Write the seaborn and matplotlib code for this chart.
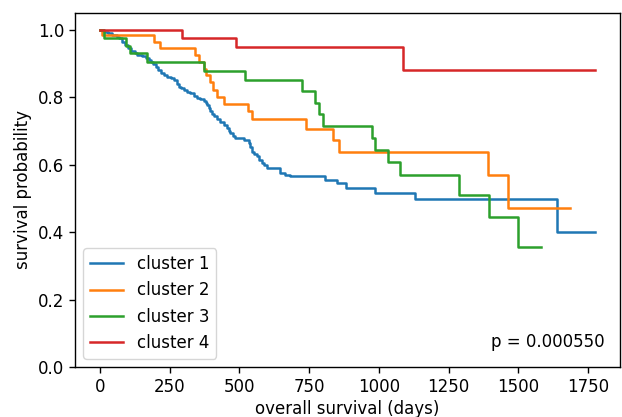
import pandas as pd
import numpy as np
import seaborn as sns
import matplotlib
matplotlib.use("Agg")
import matplotlib.pyplot as plt

plt.rcParams.update({'font.size': 12, 'axes.linewidth': 1.0,
                     'xtick.major.size': 4.2, 'ytick.major.size': 4.2,
                     'xtick.major.width': 1.0, 'ytick.major.width': 1.0})

# step functions (time in days, survival)
c1_time = [0, 15, 30, 45, 60, 70, 80, 90, 100, 111, 125, 135, 150, 164, 175, 182,
           192, 200, 210, 218, 230, 242, 255, 266, 275, 284, 292, 301, 312, 325,
           337, 349, 360, 373, 380, 385, 390, 396, 402, 408, 420, 432, 444, 456,
           462, 468, 477, 486, 516, 533, 539, 545, 554, 563, 572, 581, 590, 599,
           647, 665, 683, 807, 851, 881, 986, 1131, 1637, 1775]
c1_surv = [1.0, 0.995, 0.990, 0.985, 0.980, 0.975, 0.965, 0.955, 0.945, 0.936,
           0.931, 0.926, 0.921, 0.916, 0.911, 0.906, 0.898, 0.891, 0.881, 0.871,
           0.866, 0.861, 0.856, 0.851, 0.840, 0.830, 0.826, 0.822, 0.817, 0.812,
           0.805, 0.797, 0.794, 0.790, 0.782, 0.777, 0.768, 0.758, 0.750, 0.743,
           0.735, 0.728, 0.718, 0.708, 0.700, 0.693, 0.686, 0.679, 0.672, 0.664,
           0.652, 0.639, 0.632, 0.625, 0.615, 0.605, 0.598, 0.590, 0.575, 0.570,
           0.565, 0.555, 0.545, 0.532, 0.517, 0.497, 0.399, 0.399]

c2_time = [0, 7, 195, 215, 343, 357, 372, 382, 395, 405, 420, 445, 530, 545,
           739, 834, 858, 1390, 1462, 1685]
c2_surv = [1.0, 0.984, 0.963, 0.945, 0.925, 0.905, 0.885, 0.866, 0.846, 0.822,
           0.800, 0.779, 0.758, 0.736, 0.706, 0.672, 0.637, 0.568, 0.471, 0.471]

c3_time = [0, 15, 94, 107, 168, 373, 521, 724, 771, 787, 801, 977, 986, 1033,
           1075, 1286, 1394, 1500, 1581]
c3_surv = [1.0, 0.977, 0.953, 0.931, 0.904, 0.879, 0.850, 0.820, 0.783, 0.750,
           0.715, 0.680, 0.644, 0.607, 0.568, 0.510, 0.446, 0.357, 0.357]

c4_time = [0, 293, 488, 1086, 1775]
c4_surv = [1.0, 0.977, 0.950, 0.882, 0.882]

clusters = ['cluster 1', 'cluster 2', 'cluster 3', 'cluster 4']
p_value = 0.000550

frames = []
for name, t, s in zip(clusters, [c1_time, c2_time, c3_time, c4_time],
                      [c1_surv, c2_surv, c3_surv, c4_surv]):
    frames.append(pd.DataFrame({'time': t, 'surv': s, 'cluster': name}))
d = pd.concat(frames, ignore_index=True)

fig = plt.figure(figsize=(6.22, 4.17), dpi=100)
ax = fig.add_axes([0.1206, 0.1199, 0.876, 0.849])

sns.lineplot(data=d, x='time', y='surv', hue='cluster', palette='tab10',
             drawstyle='steps-post', estimator=None, linewidth=1.8, ax=ax)

ax.set_ylim(0, 1.05)
ax.set_xlabel('overall survival (days)', labelpad=3)
ax.set_ylabel('survival probability')
ax.legend(loc='lower left')
ax.text(0.972, 0.045, 'p = %.6f' % p_value, transform=ax.transAxes,
        ha='right', va='bottom')

fig.savefig('out.png', dpi=100)
